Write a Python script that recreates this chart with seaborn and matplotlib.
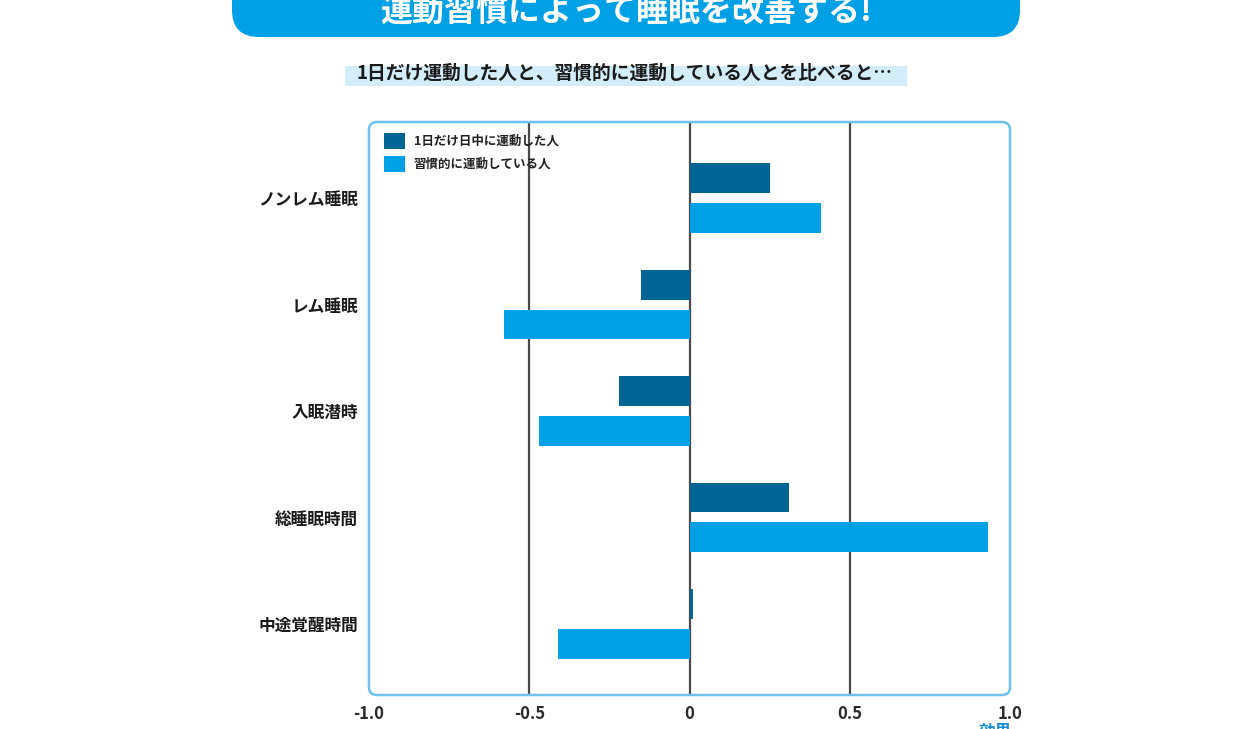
import matplotlib
matplotlib.use('Agg')
import matplotlib.pyplot as plt
from matplotlib.patches import FancyBboxPatch, Rectangle
import seaborn as sns
import pandas as pd

# data
categories = ['ノンレム睡眠', 'レム睡眠', '入眠潜時', '総睡眠時間', '中途覚醒時間']
one_day = [0.25, -0.15, -0.22, 0.31, 0.01]
habitual = [0.41, -0.58, -0.47, 0.93, -0.41]
groups = ['1日だけ日中に運動した人', '習慣的に運動している人']
xticks = [-1.0, -0.5, 0, 0.5, 1.0]
xticklabels = ['-1.0', '-0.5', '0', '0.5', '1.0']

df = pd.DataFrame({
    'category': categories * 2,
    'value': one_day + habitual,
    'group': [groups[0]] * len(categories) + [groups[1]] * len(categories),
})

sns.set_theme(style='white')
plt.rcParams['font.family'] = ['Noto Sans CJK JP', 'DejaVu Sans']

dark = '#006494'
light = '#00A0E6'
W, H = 1260, 729

fig = plt.figure(figsize=(12.6, 7.29), dpi=100)
fig.patch.set_facecolor('white')

# background layer in pixel coordinates for the banner and subtitle
bg = fig.add_axes([0, 0, 1, 1], zorder=-1)
bg.set_xlim(0, W)
bg.set_ylim(H, 0)
bg.axis('off')
bg.add_patch(FancyBboxPatch((232, -40), 788, 77,
                            boxstyle='round,pad=0,rounding_size=27',
                            facecolor=light, edgecolor='none'))
bg.text(626, 12, '運動習慣によって睡眠を改善する!', color='white',
        fontsize=23, fontweight='bold', ha='center', va='center')
bg.add_patch(Rectangle((345, 66), 562, 20, facecolor='#D4EDFA', edgecolor='none'))
bg.text(625, 73, '1日だけ運動した人と、習慣的に運動している人とを比べると…',
        color='#1a1a1a', fontsize=13.5, fontweight='bold', ha='center', va='center')
bg.text(995, 723, '効果', color='#1a8fd0', fontsize=12, fontweight='bold',
        ha='center', va='top')

ax = fig.add_axes([369 / W, 1 - 695 / H, 641 / W, 573 / H])
sns.barplot(data=df, x='value', y='category', hue='group', orient='h',
            palette=[dark, light], saturation=1, width=0.75, gap=0.25,
            linewidth=0, errorbar=None, ax=ax, zorder=3)

for x in [-0.5, 0, 0.5]:
    ax.axvline(x, color='#4a4a4a', lw=1.6, zorder=2)

ax.set_xlim(-1.0, 1.0)
ax.set_ylim(4.667, -0.714)
ax.set_xlabel('')
ax.set_ylabel('')
ax.set_xticks(xticks)
ax.set_xticklabels(xticklabels, fontsize=12, fontweight='bold', color='#2a2a2a')
for lab in ax.get_yticklabels():
    lab.set_fontsize(12)
    lab.set_fontweight('bold')
    lab.set_color('#1a1a1a')
ax.tick_params(axis='x', length=0, pad=7)
ax.tick_params(axis='y', length=0, pad=8)
for s in ax.spines.values():
    s.set_visible(False)

ax.add_patch(FancyBboxPatch((0, 0), 1, 1, boxstyle='round,pad=0,rounding_size=0.013',
                            transform=ax.transAxes, fill=False,
                            edgecolor='#6FC2EE', lw=1.8, clip_on=False, zorder=4))

leg = ax.legend(loc='upper left', bbox_to_anchor=(0.023, 0.981), frameon=False,
                fontsize=9, handlelength=1.7, handleheight=1.6,
                handletextpad=0.7, labelspacing=0.55, borderpad=0, borderaxespad=0)
for t in leg.get_texts():
    t.set_color('#222222')
    t.set_fontweight('bold')

fig.savefig('out.png', dpi=100)
